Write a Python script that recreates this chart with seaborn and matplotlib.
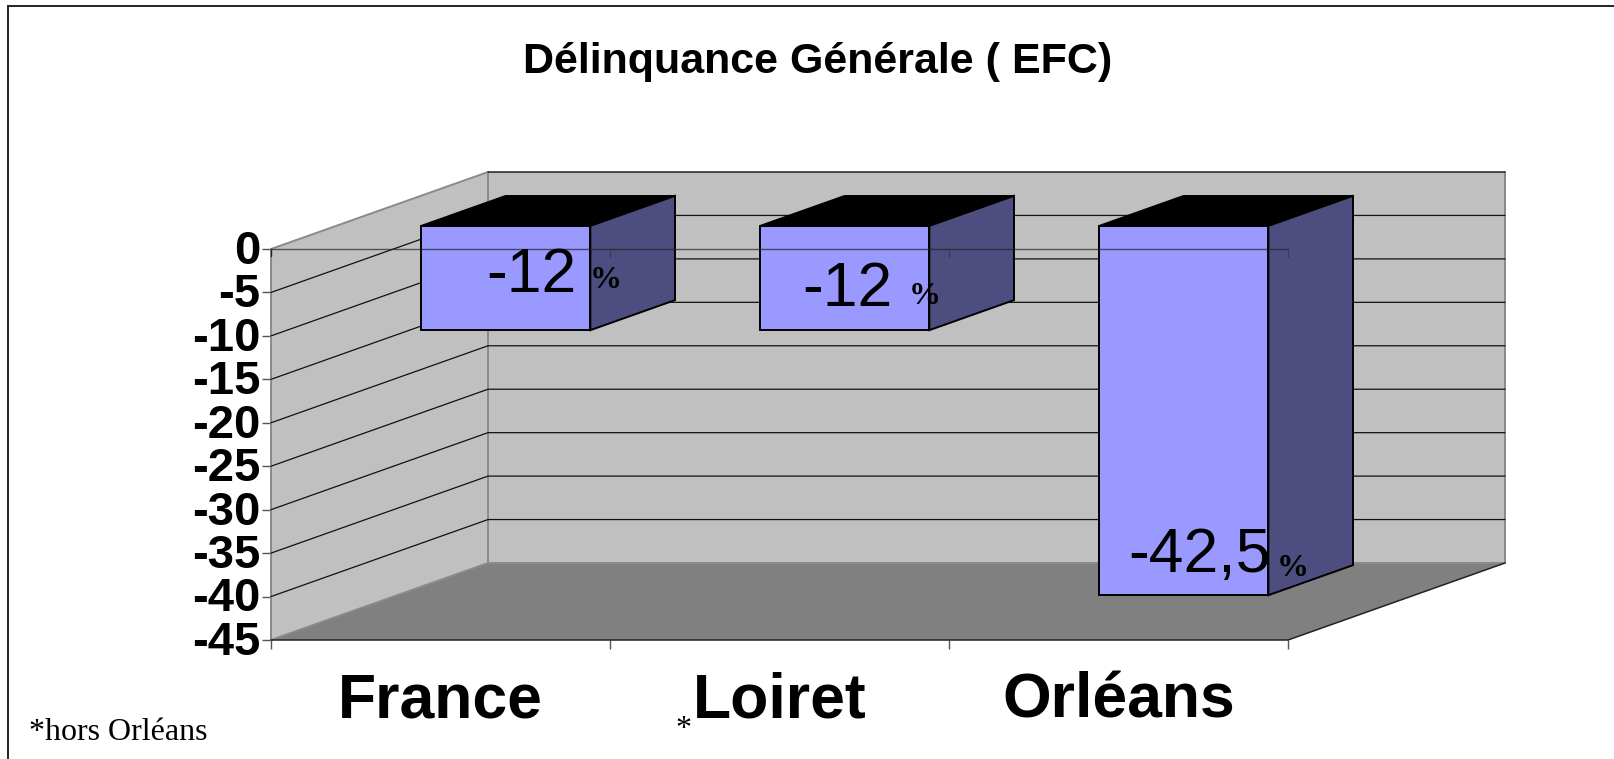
import matplotlib
matplotlib.use('Agg')
import matplotlib.pyplot as plt
from matplotlib.patches import Polygon, Rectangle
from matplotlib.transforms import Affine2D, ScaledTranslation
import pandas as pd
import seaborn as sns

categories = ['France', 'Loiret', 'Orléans']
values = [-12, -12, -42.5]
value_labels = ['-12', '-12', '-42,5']
y_ticks = [0, -5, -10, -15, -20, -25, -30, -35, -40, -45]
title = 'Délinquance Générale ( EFC)'
footnote = '*hors Orléans'

W, H = 1615, 759
SANS = 'Liberation Sans'
SERIF = 'Liberation Serif'

sns.set_theme(style='white')
plt.rcParams['font.family'] = SANS

fig = plt.figure(figsize=(W / 100, H / 100), dpi=100, facecolor='white')
# axes = plan avant du graphique 3D
ax = fig.add_axes([271 / W, (H - 640) / H, (1288 - 271) / W, (640 - 249) / H])
ax.patch.set_visible(False)
for s in ax.spines.values():
    s.set_visible(False)

df = pd.DataFrame({'zone': categories, 'val': values})
sns.barplot(data=df, x='zone', y='val', color='#9999FF', saturation=1, width=0.5, ax=ax, errorbar=None)
ax.set_xlim(-0.5, 2.5)
ax.set_ylim(-45, 0)

# profondeur, en unites des donnees
DX = 217 / 339
DY = 77 / (391 / 45)


def proj(x, y, d):
    return (x + d * DX, y + d * DY)


xa, xb = -0.5, 2.5
ya, yb = -45, 0
ax.add_patch(Polygon([proj(xa, yb, 0), proj(xa, yb, 1), proj(xa, ya, 1), proj(xa, ya, 0)],
                     fc='#C0C0C0', ec='none', zorder=1, clip_on=False))
ax.add_patch(Polygon([proj(xa, yb, 1), proj(xb, yb, 1), proj(xb, ya, 1), proj(xa, ya, 1)],
                     fc='#C0C0C0', ec='none', zorder=1, clip_on=False))
ax.add_patch(Polygon([proj(xa, ya, 0), proj(xa, ya, 1), proj(xb, ya, 1), proj(xb, ya, 0)],
                     fc='#808080', ec='none', zorder=1.1, clip_on=False))

# aretes grises des parois
edges = [[proj(xa, yb, 0), proj(xa, yb, 1)], [proj(xa, yb, 1), proj(xa, ya, 1)],
         [proj(xa, yb, 0), proj(xa, ya, 0)], [proj(xa, ya, 0), proj(xa, ya, 1)],
         [proj(xb, yb, 1), proj(xb, ya, 1)], [proj(xa, ya, 1), proj(xb, ya, 1)]]
for a, b in edges:
    ax.plot([a[0], b[0]], [a[1], b[1]], color='#8a8a8a', lw=1.4, zorder=1.4, clip_on=False)

# grille
for t in y_ticks[:-1]:
    p0, p1, p2 = proj(xa, t, 0), proj(xa, t, 1), proj(xb, t, 1)
    if t == 0:
        ax.plot([p1[0], p2[0]], [p1[1], p2[1]], color='#222222', lw=1.1, zorder=1.5, clip_on=False)
    else:
        ax.plot([p0[0], p1[0], p2[0]], [p0[1], p1[1], p2[1]], color='#111111', lw=0.9, zorder=1.5, clip_on=False)

a, b = proj(xb, ya, 0), proj(xb, ya, 1)
ax.plot([xa, xb, b[0]], [ya, ya, b[1]], color='#222222', lw=1.1, zorder=1.7, clip_on=False)

# barres : face avant par seaborn, decalee en profondeur, puis cotes
D0, D1 = 0.30, 0.69
shift = Affine2D().translate(D0 * DX, D0 * DY)
for bar in ax.patches:
    if not isinstance(bar, Rectangle):
        continue
    bar.set_transform(shift + ax.transData)
    bar.set(edgecolor='black', linewidth=1.4, zorder=3, clip_on=False)
    x0, x1 = bar.get_x(), bar.get_x() + bar.get_width()
    y1 = bar.get_height()
    ax.add_patch(Polygon([proj(x0, 0, D0), proj(x0, 0, D1), proj(x1, 0, D1), proj(x1, 0, D0)],
                         fc='black', ec='black', lw=1.2, zorder=3, clip_on=False))
    ax.add_patch(Polygon([proj(x1, 0, D0), proj(x1, 0, D1), proj(x1, y1, D1), proj(x1, y1, D0)],
                         fc='#4D4D80', ec='black', lw=1.4, zorder=3, clip_on=False))

# axe du zero, vu a travers les barres
ax.plot([xa, xb], [0, 0], color='#222222', lw=1.0, alpha=0.7, zorder=4, clip_on=False)
ax.plot([xa, xa], [0, -0.8], color='#222222', lw=1.0, zorder=4, clip_on=False)
for x in [0.5, 1.5, 2.5]:
    ax.plot([x, x], [0, -0.9], color='#333333', lw=0.8, alpha=0.7, zorder=4, clip_on=False)

ax.set_yticks(y_ticks)
ax.set_yticklabels([str(t) for t in y_ticks], fontsize=34, fontweight='bold', color='black')
ax.set_xticks(range(3))
ax.set_xticklabels(categories, fontsize=45, fontweight='bold', color='black')
ax.set_xticks([-0.5, 0.5, 1.5, 2.5], minor=True)
ax.tick_params(axis='y', which='major', direction='out', left=True, length=6.5, width=1.0, color='#555555', pad=1)
ax.tick_params(axis='x', which='major', length=0, pad=23)
ax.tick_params(axis='x', which='minor', direction='out', bottom=True, length=6.5, width=1.0, color='#555555')
ax.set_xlabel('')
ax.set_ylabel('')
for lab in ax.get_yticklabels():
    lab.set_transform(lab.get_transform() + ScaledTranslation(0, 1.5 / 72, fig.dpi_scale_trans))


def px_text(x, y, s, **kw):
    return fig.text(x / W, 1 - y / H, s, color='black', **kw)


px_text(818, 62, title, fontsize=31, fontweight='bold', ha='center', va='center', family=SANS)
label_pos = [(486, 276), (802, 290), (1128, 556)]
pct_pos = [(606, 281), (925, 297), (1293, 568)]
for lab, (x, y), (px, py) in zip(value_labels, label_pos, pct_pos):
    px_text(x, y, lab, fontsize=45, ha='left', va='center', zorder=10)
    px_text(px, py, '%', fontsize=23, fontweight='bold', ha='center', va='center', family=SERIF, zorder=10)
px_text(29, 732, footnote, fontsize=23, ha='left', va='center', family=SERIF)
px_text(683, 729, '*', fontsize=23, ha='center', va='center', family=SERIF)

# cadre de la zone de graphique
fig.add_artist(plt.Rectangle((8 / W, -0.02), (W + 20) / W, 1 - 6 / H + 0.02, transform=fig.transFigure,
                             fill=False, ec='#222222', lw=1.4))

fig.savefig('out.png', dpi=100)
